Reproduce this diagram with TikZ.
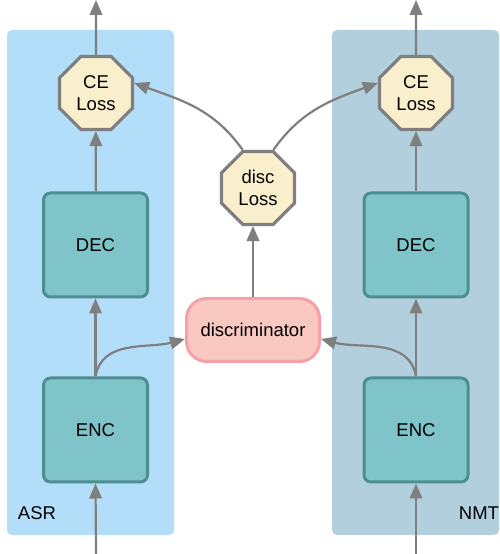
\documentclass[tikz,border=0pt]{standalone}
\usepackage{fontspec}
\setmainfont{Liberation Sans}
\usetikzlibrary{
    shapes.geometric,
    arrows.meta
}
\definecolor{asr panel}{HTML}{B3DEF9}
\definecolor{nmt panel}{HTML}{B1CFDD}
\definecolor{block fill}{HTML}{7EC4C8}
\definecolor{block edge}{HTML}{4D8E90}
\definecolor{loss fill}{HTML}{FAEFCD}
\definecolor{loss edge}{HTML}{7F7F7F}
\definecolor{disc fill}{HTML}{F9C8C0}
\definecolor{disc edge}{HTML}{F6A0A8}
\definecolor{arrow gray}{HTML}{7F7F7F}
\tikzset {
    big text/.style = {font = \fontsize{18.5}{22.5}\selectfont},
    panel/.style = {rounded corners = 5pt},
    block/.style = {
        big text,
        draw = block edge,
        fill = block fill,
        line width = 3pt,
        rounded corners = 7pt,
        minimum width = 104pt,
        minimum height = 104pt,
        inner sep = 0pt
    },
    loss/.style = {
        big text,
        regular polygon,
        regular polygon sides = 8,
        draw = loss edge,
        fill = loss fill,
        line width = 3.2pt,
        minimum size = 79pt,
        inner sep = 0pt,
        align = center
    },
    disc box/.style = {
        big text,
        draw = disc edge,
        fill = disc fill,
        line width = 3pt,
        rounded corners = 20pt,
        minimum width = 133pt,
        minimum height = 63pt,
        inner sep = 0pt
    },
    flow/.style = {
        draw = arrow gray,
        line width = 2.2pt,
        -{Triangle[length = 15pt, width = 12.5pt]}
    }
}
\begin{document}
\begin{tikzpicture}[x = 1pt, y = 1pt]
    \useasboundingbox (0, 0) rectangle (499, 554);
    % panels
    \fill [panel, asr panel] (7, 19) rectangle (174, 524);
    \fill [panel, nmt panel] (332, 19) rectangle (499, 524);
    \node (asr) [big text] at (37, 41) {ASR};
    \node (nmt) [big text] at (479, 41) {NMT};
    % blocks
    \node (encL) [block] at (95.5, 124) {ENC};
    \node (decL) [block] at (95.5, 309) {DEC};
    \node (ceL) [loss] at (96, 461) {CE\\Loss};
    \node (encR) [block] at (416, 124) {ENC};
    \node (decR) [block] at (416, 309) {DEC};
    \node (ceR) [loss] at (416, 461) {CE\\Loss};
    \node (disc) [disc box] at (253, 224) {discriminator};
    \node (dloss) [loss] at (258, 366) {disc\\Loss};
    \coordinate (inL) at (96, 0);
    \coordinate (inR) at (416, 0);
    \coordinate (outL) at (96, 554);
    \coordinate (outR) at (416, 554);
    % arrows
    \draw [flow] (inL) -- (encL.south);
    \draw [flow] (encL) -- (decL);
    \draw [flow] (decL) -- (ceL);
    \draw [flow] (ceL.north) -- (outL);
    \draw [flow] (inR) -- (encR.south);
    \draw [flow] (encR) -- (decR);
    \draw [flow] (decR) -- (ceR);
    \draw [flow] (ceR.north) -- (outR);
    \draw [flow] (encL.north) to [out = 80, in = 195] ([yshift = -9pt] disc.west);
    \draw [flow] (encR.north) to [out = 100, in = -15] ([yshift = -9pt] disc.east);
    \draw [flow] (disc.north) -- (disc.north |- dloss.south);
    \draw [flow] (dloss.112) to [out = 125, in = -20] ([yshift = 10pt] ceL.east);
    \draw [flow] (dloss.68) to [out = 55, in = 200] ([yshift = 10pt] ceR.west);
\end{tikzpicture}
\end{document}
